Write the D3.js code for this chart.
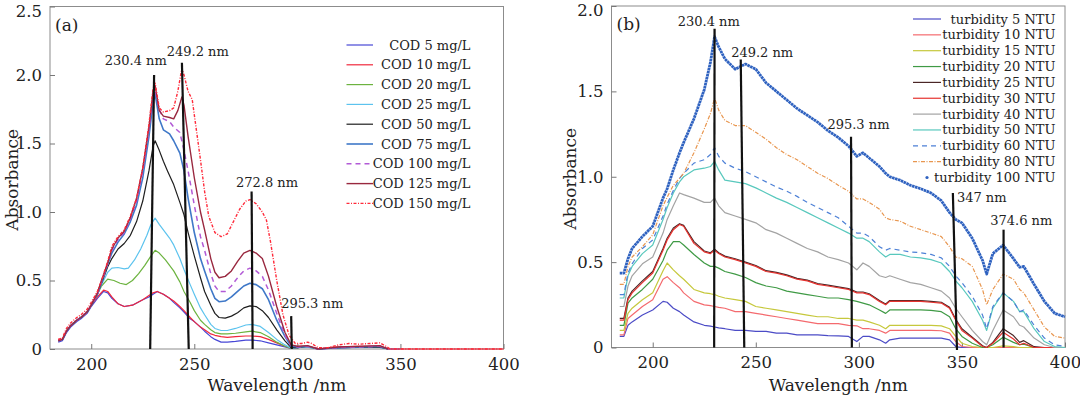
<!DOCTYPE html>
<html>
<head>
<meta charset="utf-8">
<script src="https://cdn.jsdelivr.net/npm/d3@7"></script>
<style>
body { margin: 0; background: #fff; }
svg text { font-family: "DejaVu Serif", serif; }
</style>
</head>
<body>
<svg id="chart" width="1080" height="398"></svg>
<script>

// ---- panel (a): COD spectra, [wavelength nm, absorbance]
var cod5 = [[184,0.05],[186,0.06],[188,0.12],[190,0.16],[193,0.2],[195,0.22],[198,0.26],[200,0.31],[203,0.37],[206,0.42],[208,0.41],[210,0.37],[213,0.33],[216,0.31],[220,0.32],[225,0.36],[228,0.38],[230,0.4],[232,0.42],[235,0.4],[238,0.37],[240,0.34],[243,0.3],[245,0.27],[248,0.22],[250,0.2],[253,0.16],[255,0.13],[258,0.09],[260,0.07],[263,0.05],[266,0.05],[270,0.055],[275,0.065],[278,0.065],[282,0.06],[286,0.045],[290,0.03],[294,0.015],[297,0.005],[300,0.01],[303,0.015],[307,0.01],[310,0],[315,0.005],[320,0.01],[330,0.012],[340,0.012],[344,0],[350,0]];
var cod10 = [[184,0.07],[186,0.07],[188,0.13],[190,0.17],[193,0.21],[195,0.23],[198,0.27],[200,0.32],[203,0.38],[206,0.43],[208,0.42],[210,0.38],[213,0.33],[216,0.31],[220,0.32],[225,0.36],[228,0.39],[230,0.41],[232,0.42],[235,0.4],[238,0.37],[240,0.35],[243,0.31],[245,0.28],[248,0.23],[250,0.2],[253,0.16],[255,0.14],[258,0.11],[260,0.1],[263,0.09],[266,0.085],[270,0.09],[275,0.095],[278,0.095],[282,0.09],[286,0.07],[290,0.045],[294,0.02],[297,0.005],[300,0.015],[304,0.02],[308,0.01],[311,0],[315,0.01],[320,0.015],[330,0.02],[340,0.02],[344,0],[400,0]];
var cod20 = [[184,0.06],[186,0.07],[188,0.13],[190,0.17],[193,0.21],[195,0.23],[198,0.27],[200,0.32],[203,0.4],[205,0.46],[208,0.51],[211,0.5],[214,0.48],[217,0.47],[220,0.5],[223,0.55],[226,0.61],[229,0.68],[231,0.72],[233,0.7],[236,0.65],[240,0.57],[243,0.49],[245,0.42],[248,0.34],[250,0.28],[253,0.21],[255,0.18],[258,0.14],[260,0.12],[263,0.11],[266,0.11],[270,0.115],[275,0.125],[278,0.13],[282,0.12],[286,0.09],[290,0.05],[294,0.02],[297,0.005],[300,0.01],[305,0.015],[310,0],[320,0.01],[340,0.015],[344,0]];
var cod25 = [[184,0.06],[186,0.07],[188,0.13],[190,0.17],[193,0.21],[195,0.23],[198,0.27],[200,0.32],[203,0.4],[205,0.47],[208,0.56],[210,0.59],[213,0.595],[216,0.585],[218,0.59],[221,0.65],[224,0.73],[227,0.83],[229,0.91],[231,0.955],[233,0.91],[236,0.85],[238,0.81],[240,0.76],[243,0.66],[245,0.58],[248,0.47],[250,0.4],[253,0.3],[255,0.25],[258,0.18],[260,0.15],[263,0.135],[266,0.135],[270,0.15],[275,0.175],[278,0.18],[282,0.165],[286,0.12],[290,0.07],[294,0.03],[297,0.005],[300,0.01],[305,0.015],[310,0],[320,0.01],[340,0.015],[344,0]];
var cod50 = [[184,0.06],[186,0.07],[188,0.13],[190,0.17],[193,0.21],[195,0.23],[198,0.27],[200,0.32],[203,0.4],[205,0.48],[208,0.6],[210,0.66],[213,0.73],[216,0.77],[219,0.83],[222,0.93],[225,1.08],[228,1.3],[230,1.48],[231,1.52],[233,1.45],[235,1.37],[237,1.3],[240,1.2],[243,1.07],[245,0.98],[247,0.85],[250,0.68],[253,0.52],[255,0.42],[258,0.32],[260,0.26],[262,0.23],[265,0.225],[268,0.24],[271,0.265],[274,0.3],[277,0.315],[280,0.31],[283,0.28],[286,0.23],[290,0.14],[294,0.06],[297,0.01],[300,0.01],[305,0.02],[310,0],[320,0.01],[340,0.015],[344,0]];
var cod75 = [[184,0.06],[186,0.07],[188,0.13],[190,0.17],[193,0.21],[195,0.23],[198,0.27],[200,0.32],[203,0.4],[205,0.49],[208,0.62],[210,0.7],[213,0.78],[216,0.84],[219,0.93],[222,1.05],[225,1.25],[228,1.55],[230,1.8],[231,1.86],[233,1.68],[235,1.6],[238,1.57],[240,1.52],[243,1.43],[245,1.3],[247,1.1],[250,0.85],[253,0.66],[255,0.57],[258,0.44],[260,0.37],[262,0.345],[265,0.35],[268,0.38],[271,0.42],[274,0.46],[277,0.48],[280,0.47],[283,0.44],[286,0.36],[290,0.21],[294,0.09],[297,0.02],[300,0.015],[305,0.02],[310,0],[320,0.01],[340,0.02],[344,0]];
var cod100 = [[184,0.06],[186,0.07],[188,0.13],[190,0.17],[193,0.21],[195,0.23],[198,0.27],[200,0.32],[203,0.4],[205,0.49],[208,0.62],[210,0.72],[213,0.8],[216,0.85],[219,0.95],[222,1.08],[225,1.3],[228,1.6],[230,1.85],[231,1.89],[233,1.75],[235,1.68],[238,1.66],[240,1.62],[243,1.58],[245,1.45],[247,1.3],[250,1.05],[253,0.82],[255,0.72],[258,0.55],[260,0.46],[262,0.42],[265,0.42],[268,0.46],[271,0.52],[274,0.57],[277,0.59],[280,0.57],[283,0.53],[286,0.43],[290,0.26],[294,0.1],[297,0.02],[300,0.015],[305,0.02],[310,0],[320,0.01],[340,0.02],[344,0]];
var cod125 = [[184,0.06],[186,0.07],[188,0.13],[190,0.17],[193,0.21],[195,0.23],[198,0.27],[200,0.32],[203,0.41],[205,0.5],[208,0.63],[210,0.73],[213,0.81],[216,0.86],[219,0.96],[222,1.1],[225,1.32],[228,1.62],[230,1.88],[231,1.92],[233,1.74],[235,1.7],[238,1.69],[240,1.68],[242,1.74],[244,1.84],[245,1.78],[247,1.55],[250,1.25],[253,1.0],[255,0.87],[258,0.66],[260,0.56],[262,0.52],[265,0.53],[268,0.57],[271,0.64],[274,0.7],[277,0.72],[280,0.7],[283,0.66],[286,0.53],[290,0.31],[294,0.12],[297,0.03],[300,0.02],[305,0.025],[310,0],[320,0.015],[340,0.025],[344,0]];
var cod150 = [[184,0.07],[186,0.08],[188,0.15],[190,0.19],[193,0.23],[195,0.25],[198,0.29],[200,0.34],[203,0.42],[205,0.5],[208,0.64],[210,0.75],[213,0.82],[216,0.87],[219,0.97],[222,1.1],[225,1.32],[228,1.64],[230,1.9],[231,1.94],[233,1.76],[235,1.73],[238,1.74],[240,1.76],[242,1.88],[244,2.05],[245,2.0],[247,1.88],[249,1.82],[251,1.6],[253,1.38],[255,1.15],[257,0.97],[260,0.85],[263,0.82],[266,0.84],[269,0.93],[272,1.02],[275,1.08],[277,1.09],[280,1.06],[283,1.0],[285,0.94],[287,0.78],[290,0.5],[293,0.25],[296,0.1],[299,0.04],[302,0.04],[305,0.05],[307,0.04],[310,0.01],[315,0.01],[320,0.03],[325,0.04],[330,0.035],[335,0.04],[340,0.045],[343,0.02],[345,0],[400,0]];

var codNames = ["COD 5 mg/L","COD 10 mg/L","COD 20 mg/L","COD 25 mg/L","COD 50 mg/L","COD 75 mg/L","COD 100 mg/L","COD 125 mg/L","COD 150 mg/L"];

// peak markers: [bottom wl, top wl, top absorbance], labels: [text, wl, absorbance]
var codMarks = [[228.6,230.5,2.0],[247.3,244.0,2.09],[278.3,277.8,1.15],[297.3,297.0,0.24]];
var codLabels = [["230.4 nm",221.6,2.07],["249.2 nm",251.7,2.14],["272.8 nm",285.3,1.185],["295.3 nm",307.2,0.297]];

// ---- panel (b): turbidity spectra on a shared wavelength grid
var turbWl = [184,186,188,190,195,200,205,207,210,213,215,220,225,228,230,232,235,240,245,250,255,260,265,270,275,280,285,290,295,299,302,305,310,313,315,320,325,330,335,340,344,347,350,355,360,362,365,370,375,378,380,385,390,395,400];
var turb5   = [0.065,0.065,0.13,0.15,0.19,0.22,0.27,0.265,0.23,0.21,0.19,0.15,0.13,0.125,0.12,0.115,0.11,0.1,0.1,0.094,0.094,0.084,0.084,0.074,0.074,0.074,0.07,0.068,0.065,0.035,0.065,0.065,0.045,0.025,0.045,0.055,0.055,0.055,0.055,0.055,0.045,0.006,0,0,0,0,0,0,0,0,0,0,0,0,0];
var turb10  = [0.074,0.074,0.17,0.19,0.24,0.28,0.4,0.415,0.38,0.35,0.32,0.27,0.25,0.245,0.24,0.235,0.23,0.21,0.21,0.2,0.19,0.18,0.17,0.16,0.15,0.14,0.14,0.14,0.13,0.127,0.11,0.11,0.1,0.084,0.1,0.1,0.1,0.1,0.1,0.098,0.084,0.035,0.006,0,0,0,0,0,0,0,0,0,0,0,0];
var turb15  = [0.1,0.1,0.2,0.23,0.28,0.32,0.45,0.495,0.455,0.42,0.4,0.34,0.32,0.315,0.31,0.3,0.29,0.28,0.27,0.24,0.23,0.22,0.21,0.2,0.19,0.18,0.18,0.17,0.17,0.16,0.16,0.15,0.13,0.11,0.13,0.13,0.13,0.13,0.13,0.127,0.11,0.065,0.025,0.006,0,0,0,0.01,0.005,0,0,0,0,0,0];
var turb20  = [0.13,0.13,0.26,0.29,0.34,0.4,0.51,0.57,0.62,0.62,0.6,0.545,0.495,0.475,0.475,0.465,0.445,0.43,0.41,0.38,0.36,0.35,0.33,0.32,0.31,0.3,0.29,0.29,0.28,0.27,0.26,0.25,0.22,0.2,0.22,0.22,0.22,0.22,0.217,0.21,0.18,0.11,0.065,0.025,0,0,0.016,0.06,0.03,0.016,0.02,0,0,0,0];
var turb25  = [0.17,0.17,0.29,0.33,0.39,0.445,0.58,0.64,0.7,0.725,0.715,0.62,0.565,0.555,0.575,0.555,0.535,0.52,0.5,0.48,0.45,0.44,0.425,0.405,0.395,0.375,0.365,0.355,0.345,0.325,0.325,0.315,0.275,0.255,0.275,0.275,0.275,0.275,0.27,0.265,0.235,0.165,0.11,0.06,0.01,0,0.03,0.11,0.07,0.03,0.04,0.005,0,0,0];
var turb30  = [0.16,0.16,0.28,0.32,0.38,0.436,0.57,0.63,0.69,0.72,0.71,0.61,0.56,0.55,0.57,0.55,0.53,0.515,0.495,0.475,0.445,0.436,0.42,0.4,0.39,0.37,0.36,0.35,0.34,0.32,0.32,0.31,0.27,0.25,0.27,0.27,0.27,0.27,0.265,0.26,0.23,0.16,0.1,0.055,0.006,0,0.025,0.09,0.05,0.016,0.025,0,0,0,0];
var turb40  = [0.24,0.24,0.36,0.42,0.49,0.53,0.67,0.75,0.83,0.905,0.895,0.875,0.85,0.85,0.875,0.83,0.79,0.77,0.75,0.73,0.69,0.67,0.64,0.61,0.58,0.56,0.53,0.515,0.495,0.455,0.495,0.475,0.42,0.41,0.42,0.4,0.38,0.37,0.35,0.33,0.29,0.23,0.18,0.1,0.035,0.016,0.1,0.22,0.18,0.13,0.12,0.055,0.016,0,0];
var turb50  = [0.29,0.29,0.42,0.475,0.55,0.6,0.75,0.82,0.905,0.97,1.0,1.04,1.05,1.06,1.09,1.04,0.98,0.97,0.96,0.935,0.905,0.875,0.85,0.82,0.79,0.76,0.73,0.7,0.67,0.64,0.64,0.62,0.56,0.53,0.545,0.545,0.53,0.525,0.515,0.495,0.445,0.39,0.35,0.27,0.16,0.1,0.23,0.32,0.27,0.21,0.21,0.11,0.035,0.006,0];
var turb60  = [0.31,0.31,0.436,0.49,0.58,0.63,0.77,0.84,0.92,0.99,1.02,1.08,1.1,1.13,1.17,1.12,1.08,1.05,1.03,1.0,0.97,0.94,0.915,0.885,0.85,0.82,0.79,0.76,0.71,0.67,0.67,0.65,0.59,0.57,0.58,0.57,0.56,0.555,0.545,0.525,0.475,0.42,0.38,0.3,0.19,0.11,0.24,0.32,0.27,0.21,0.22,0.13,0.055,0.016,0.006];
var turb80  = [0.37,0.37,0.475,0.53,0.59,0.66,0.83,0.88,0.95,0.99,1.02,1.14,1.28,1.37,1.46,1.39,1.33,1.3,1.3,1.26,1.22,1.17,1.13,1.1,1.06,1.02,0.99,0.95,0.915,0.87,0.87,0.85,0.81,0.76,0.75,0.74,0.71,0.69,0.67,0.65,0.59,0.53,0.52,0.475,0.34,0.25,0.34,0.43,0.4,0.34,0.32,0.22,0.12,0.065,0.055];
var turb100 = [0.436,0.436,0.52,0.58,0.65,0.71,0.875,0.93,1.04,1.14,1.2,1.34,1.51,1.67,1.82,1.76,1.69,1.63,1.66,1.63,1.55,1.5,1.45,1.4,1.36,1.32,1.27,1.23,1.18,1.12,1.14,1.11,1.06,1.02,1.0,0.98,0.95,0.93,0.905,0.86,0.79,0.75,0.73,0.64,0.51,0.43,0.55,0.6,0.52,0.47,0.475,0.37,0.27,0.2,0.18];

var turbNames = ["turbidity 5 NTU","turbidity 10 NTU","turbidity 15 NTU","turbidity 20 NTU","turbidity 25 NTU","turbidity 30 NTU","turbidity 40 NTU","turbidity 50 NTU","turbidity 60 NTU","turbidity 80 NTU","turbidity 100 NTU"];

var turbMarks = [[229.8,230.0,1.867],[244.4,242.7,1.687],[296.6,296.2,1.234],[347.6,345.6,0.905,-0.015],[370.2,370.2,0.69]];
var turbLabels = [["230.4 nm",227.2,1.88],["249.2 nm",253.1,1.70],["295.3 nm",299.8,1.277],["347 nm",359.6,0.85],["374.6 nm",378.8,0.72]];

var xTicks = [200, 250, 300, 350, 400];
var yTicksA = [0, 0.5, 1.0, 1.5, 2.0, 2.5];
var yTicksB = [0, 0.5, 1.0, 1.5, 2.0];


var svg = d3.select("#chart");

function zipGrid(vals){
    return vals.map(function(v, i){ return [turbWl[i], v]; });
}

function draw_panel( p ){
    var x = d3.scaleLinear().domain([180, 400]).range([p.left, p.right]);
    var y = d3.scaleLinear().domain([0, p.yMax]).range([p.bottom, p.top]);
    var g = svg.append("g");

    // frame
    g.append("rect")
        .attr("x", p.left).attr("y", p.top)
        .attr("width", p.right - p.left).attr("height", p.bottom - p.top)
        .attr("fill", "none").attr("stroke", "#8c8c8c").attr("stroke-width", 1);

    var xa = g.append("g")
        .attr("transform", "translate(0," + p.bottom + ")")
        .call(d3.axisBottom(x).tickValues(xTicks).tickSize(-5).tickPadding(9).tickFormat(d3.format("d")));
    var ya = g.append("g")
        .attr("transform", "translate(" + p.left + ",0)")
        .call(d3.axisLeft(y).tickValues(p.yTicks).tickSize(-5).tickPadding(8)
              .tickFormat(function(d){ return d === 0 ? "0" : d.toFixed(1); }));
    [xa, ya].forEach(function(a){
        a.attr("font-family", null);
        a.select(".domain").remove();
        a.selectAll("line").attr("stroke", "#777");
        a.selectAll("text").attr("fill", "#222").attr("font-size", "16.5px");
    });
    // top label sits at the frame edge; keep it inside the page
    ya.selectAll("text").filter(function(d){ return d === p.yMax; }).attr("dy", "0.6em");

    // axis titles
    g.append("text")
        .attr("x", (p.left + p.right) / 2).attr("y", 391)
        .attr("text-anchor", "middle").attr("font-size", "17px").attr("fill", "#222")
        .text("Wavelength /nm");
    g.append("text")
        .attr("transform", "translate(" + p.ylabX + "," + ((p.top + p.bottom) / 2 + 2) + ") rotate(-90)")
        .attr("text-anchor", "middle").attr("font-size", "17px").attr("fill", "#222")
        .text("Absorbance");
    g.append("text")
        .attr("x", p.left + 5).attr("y", p.top + 24)
        .attr("font-size", "17px").attr("fill", "#222")
        .text(p.tag);

    var line = d3.line().x(function(d){ return x(d[0]); }).y(function(d){ return y(d[1]); });

    p.series.forEach(function(s){
        g.append("path")
            .datum(s.data)
            .attr("d", line)
            .attr("fill", "none")
            .attr("stroke", s.color)
            .attr("stroke-width", s.width || 1.2)
            .attr("stroke-dasharray", s.dash || null)
            .attr("stroke-linejoin", "round");
    });

    // black peak markers
    p.marks.forEach(function(m){
        g.append("line")
            .attr("x1", x(m[0])).attr("y1", y(m[3] || 0))
            .attr("x2", x(m[1])).attr("y2", y(m[2]))
            .attr("stroke", "#111").attr("stroke-width", 2.2);
    });
    p.labels.forEach(function(l){
        g.append("text")
            .attr("x", x(l[1])).attr("y", y(l[2]))
            .attr("text-anchor", "middle").attr("font-size", "13px").attr("fill", "#222")
            .text(l[0]);
    });

    // legend
    p.series.forEach(function(s, i){
        var ly = p.leg.y + i * p.leg.dy;
        if (s.dot) {
            g.append("circle").attr("cx", (p.leg.x1 + p.leg.x2) / 2).attr("cy", ly)
                .attr("r", 1.6).attr("fill", s.color);
        } else {
            g.append("line")
                .attr("x1", p.leg.x1).attr("x2", p.leg.x2).attr("y1", ly).attr("y2", ly)
                .attr("stroke", s.color).attr("stroke-width", s.width || 1.2)
                .attr("stroke-dasharray", s.dash || null);
        }
        g.append("text")
            .attr("x", p.leg.tx).attr("y", ly + 4.5)
            .attr("text-anchor", "end").attr("font-size", "13px").attr("fill", "#222")
            .text(s.name);
    });
}

var codData = [cod5, cod10, cod20, cod25, cod50, cod75, cod100, cod125, cod150];
var codStyle = [
    {color: "#4747d6"}, {color: "#f0283c"}, {color: "#6cb33f"},
    {color: "#5cc3ee"}, {color: "#1e1e1e"}, {color: "#3f78c8", width: 1.6},
    {color: "#b25ad6", dash: "5,4", width: 1.5}, {color: "#99283f", width: 1.4},
    {color: "#ff2a3a", dash: "3,1.5,1,1.5", width: 1.4}
];
draw_panel({
    left: 50, right: 503.5, top: 6.5, bottom: 349, yMax: 2.5, yTicks: yTicksA,
    ylabX: 18, tag: "(a)",
    series: codData.map(function(d, i){ return Object.assign({name: codNames[i], data: d}, codStyle[i]); }),
    marks: codMarks, labels: codLabels,
    leg: {x1: 346.5, x2: 373, tx: 470.5, y: 45, dy: 19.8}
});

var turbData = [turb5, turb10, turb15, turb20, turb25, turb30, turb40, turb50, turb60, turb80, turb100];
var turbStyle = [
    {color: "#4b4bc6"}, {color: "#f46a6e"}, {color: "#c6c83c"}, {color: "#3f9a45"},
    {color: "#4a2626"}, {color: "#e6322e"}, {color: "#a3a3a3"}, {color: "#58c8bd"},
    {color: "#4d80d6", dash: "5,4"}, {color: "#e8964f", dash: "4,1.5,1,1.5"},
    {color: "#2f62c0", width: 2.8, dash: "2.6,0.5", dot: true}
];
draw_panel({
    left: 611.5, right: 1065, top: 6, bottom: 347.5, yMax: 2.0, yTicks: yTicksB,
    ylabX: 576, tag: "(b)",
    series: turbData.map(function(d, i){ return Object.assign({name: turbNames[i], data: zipGrid(d)}, turbStyle[i]); }),
    marks: turbMarks, labels: turbLabels,
    leg: {x1: 913, x2: 941, tx: 1055.5, y: 19, dy: 15.85}
});

</script>
</body>
</html>
